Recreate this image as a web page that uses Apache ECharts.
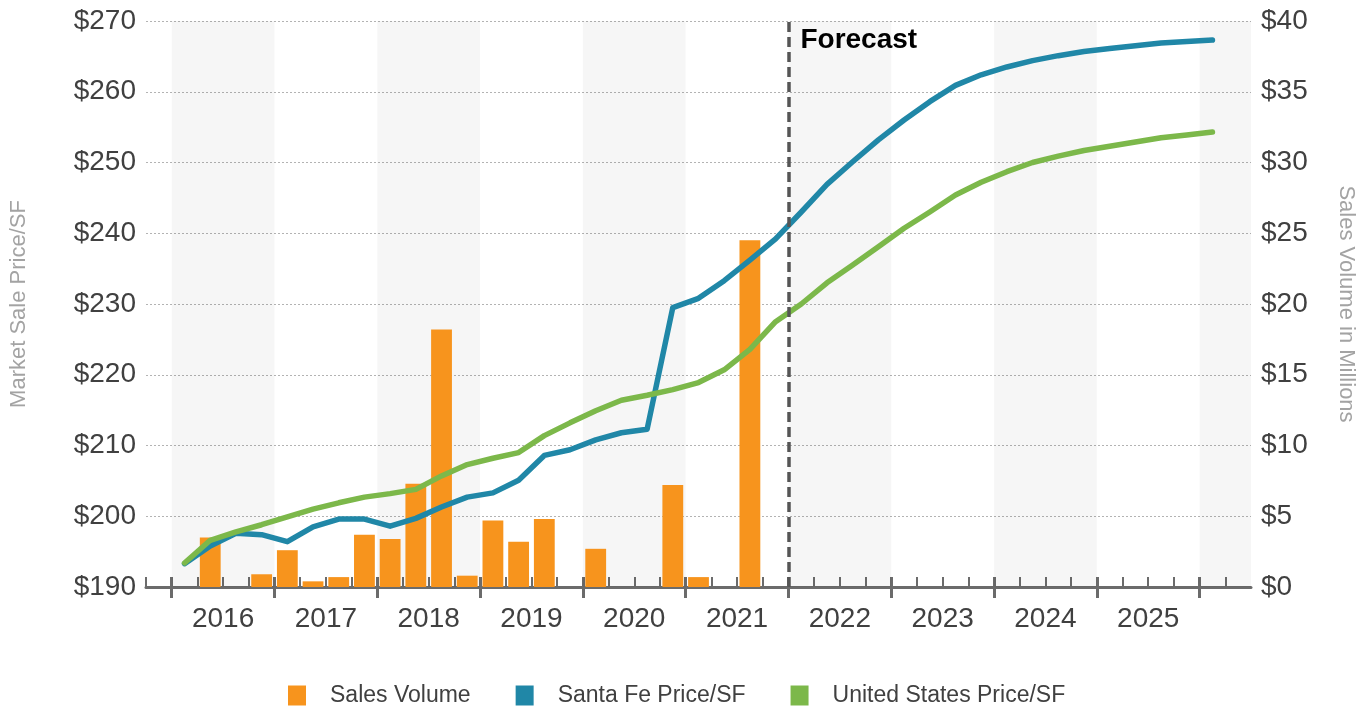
<!DOCTYPE html>
<html>
<head>
<meta charset="utf-8">
<script src="https://cdn.jsdelivr.net/npm/echarts@6/dist/echarts.min.js"></script>
<style>
  html, body { margin: 0; padding: 0; background: #ffffff; }
  #chart { width: 1370px; height: 709px; }
</style>
</head>
<body>
<div id="chart"></div>
<script>
// Quarterly categories (bars and lines sit in the middle of each quarter)
const quarters = [
  '2015Q4',
  '2016Q1', '2016Q2', '2016Q3', '2016Q4',
  '2017Q1', '2017Q2', '2017Q3', '2017Q4',
  '2018Q1', '2018Q2', '2018Q3', '2018Q4',
  '2019Q1', '2019Q2', '2019Q3', '2019Q4',
  '2020Q1', '2020Q2', '2020Q3', '2020Q4',
  '2021Q1', '2021Q2', '2021Q3', '2021Q4',
  '2022Q1', '2022Q2', '2022Q3', '2022Q4',
  '2023Q1', '2023Q2', '2023Q3', '2023Q4',
  '2024Q1', '2024Q2', '2024Q3', '2024Q4',
  '2025Q1', '2025Q2', '2025Q3', '2025Q4',
  '2026Q1', '2026Q2'
];
// Quarter start boundaries (one more than the quarters, closing the last one)
const boundaries = quarters.concat(['2026Q3']);

// Sales volume, $ millions
const salesVolume = [
  null,
  null, 3.5, null, 0.9,
  2.6, 0.4, 0.7, 3.7,
  3.4, 7.3, 18.2, 0.8,
  4.7, 3.2, 4.8, null,
  2.7, null, null, 7.2,
  0.7, null, 24.5, null,
  null, null, null, null,
  null, null, null, null,
  null, null, null, null,
  null, null, null, null,
  null, null
];

// Market sale price per SF, Santa Fe
const santaFePrice = [
  null,
  193.3, 195.8, 197.6, 197.4,
  196.4, 198.5, 199.6, 199.6,
  198.6, 199.7, 201.3, 202.7,
  203.3, 205.1, 208.6, 209.4,
  210.8, 211.8, 212.3, 229.5,
  230.8, 233.3, 236.2, 239.2,
  243.0, 246.9, 250.1, 253.2,
  256.0, 258.6, 260.9, 262.4,
  263.5, 264.4, 265.1, 265.7,
  266.1, 266.5, 266.9, 267.1,
  267.3, null
];

// Market sale price per SF, United States
const usPrice = [
  null,
  193.4, 196.6, 197.8, 198.8,
  199.9, 201.0, 201.9, 202.7,
  203.2, 203.8, 205.7, 207.3,
  208.2, 209.0, 211.4, 213.2,
  214.9, 216.4, 217.1, 217.9,
  218.9, 220.7, 223.6, 227.5,
  230.0, 233.0, 235.5, 238.1,
  240.7, 243.0, 245.4, 247.2,
  248.7, 250.0, 250.9, 251.7,
  252.3, 252.9, 253.5, 253.9,
  254.3, null
];

// Axis ranges
const priceAxis = { min: 190, max: 270, step: 10 };
const volumeAxis = { min: 0, max: 40, step: 5 };

// Alternate shaded years and start of the forecast period
const shadedYears = ['2016', '2018', '2020', '2022', '2024', '2026'];
const forecastStart = '2022Q1';

const seriesNames = ['Sales Volume', 'Santa Fe Price/SF', 'United States Price/SF'];
const colors = { volume: '#F7941D', santaFe: '#2087A7', us: '#7CB84A' };

const FONT = "'Liberation Sans', Arial, sans-serif";
const AXIS_GREY = '#6b6b6b';
const TEXT = '#404040';

const lastBoundary = boundaries[boundaries.length - 1];
const yearBands = shadedYears.map(function (y) {
  const next = (Number(y) + 1) + 'Q1';
  return [
    { xAxis: y + 'Q1' },
    { xAxis: boundaries.indexOf(next) >= 0 ? next : lastBoundary }
  ];
});

const isYearStart = function (index, value) { return /Q1$/.test(value); };

const chart = echarts.init(document.getElementById('chart'), null, { renderer: 'canvas' });

chart.setOption({
  animation: false,
  backgroundColor: '#ffffff',
  textStyle: { fontFamily: FONT },
  grid: { left: 146, right: 119, top: 21, bottom: 122, containLabel: false },
  legend: {
    left: 288,
    top: 684,
    padding: 0,
    itemWidth: 18,
    itemHeight: 20,
    itemGap: 45,
    textStyle: { fontFamily: FONT, fontSize: 23, color: TEXT, padding: [0, 0, 0, 19] },
    data: seriesNames.map(function (n) { return { name: n, icon: 'rect' }; })
  },
  xAxis: [
    {
      // quarter bands for the data series
      type: 'category',
      data: quarters,
      boundaryGap: true,
      position: 'bottom',
      show: false
    },
    {
      // quarter boundaries: axis line, quarter ticks, year labels
      type: 'category',
      data: boundaries,
      boundaryGap: false,
      position: 'bottom',
      axisLine: { show: true, lineStyle: { color: AXIS_GREY, width: 3 } },
      axisTick: { show: true, inside: true, length: 10, interval: 0, lineStyle: { color: AXIS_GREY, width: 2 } },
      axisLabel: {
        show: true,
        interval: function (index) { return index % 4 === 3; },
        formatter: function (v) { return v.slice(0, 4); },
        showMaxLabel: false,
        margin: 18,
        fontFamily: FONT,
        fontSize: 28,
        color: TEXT
      },
      splitLine: { show: false }
    },
    {
      // year boundaries, upper half of the long ticks
      type: 'category',
      data: boundaries,
      boundaryGap: false,
      position: 'bottom',
      axisLine: { show: false },
      axisTick: { show: true, inside: true, length: 10, interval: isYearStart, lineStyle: { color: AXIS_GREY, width: 3 } },
      axisLabel: { show: false },
      splitLine: { show: false }
    },
    {
      // year boundaries, lower half of the long ticks
      type: 'category',
      data: boundaries,
      boundaryGap: false,
      position: 'bottom',
      axisLine: { show: false },
      axisTick: { show: true, inside: false, length: 11, interval: isYearStart, lineStyle: { color: AXIS_GREY, width: 3 } },
      axisLabel: { show: false },
      splitLine: { show: false }
    }
  ],
  yAxis: [
    {
      type: 'value',
      position: 'left',
      min: priceAxis.min,
      max: priceAxis.max,
      interval: priceAxis.step,
      name: 'Market Sale Price/SF',
      nameLocation: 'middle',
      nameGap: 116,
      nameTextStyle: { fontFamily: FONT, fontSize: 22, color: '#a3a3a3' },
      axisLine: { show: false },
      axisTick: { show: false },
      axisLabel: { margin: 10, fontFamily: FONT, fontSize: 28, color: TEXT, formatter: function (v) { return '$' + v; } },
      splitLine: { show: true, lineStyle: { color: '#b3b3b3', width: 1, type: [2, 2] } }
    },
    {
      type: 'value',
      position: 'right',
      min: volumeAxis.min,
      max: volumeAxis.max,
      interval: volumeAxis.step,
      name: 'Sales Volume in Millions',
      nameLocation: 'middle',
      nameGap: 84,
      nameRotate: -90,
      nameTextStyle: { fontFamily: FONT, fontSize: 22, color: '#a3a3a3' },
      axisLine: { show: false },
      axisTick: { show: false },
      axisLabel: { margin: 10, fontFamily: FONT, fontSize: 28, color: TEXT, formatter: function (v) { return '$' + v; } },
      splitLine: { show: false }
    }
  ],
  series: [
    {
      // alternating year shading
      name: 'year bands',
      type: 'line',
      xAxisIndex: 1,
      yAxisIndex: 0,
      data: [],
      silent: true,
      z: 1,
      markArea: {
        silent: true,
        z: 1,
        itemStyle: { color: 'rgba(0,0,0,0.036)', borderWidth: 0 },
        data: yearBands
      }
    },
    {
      name: seriesNames[0],
      type: 'bar',
      xAxisIndex: 0,
      yAxisIndex: 1,
      data: salesVolume,
      barWidth: '81%',
      itemStyle: { color: colors.volume },
      z: 2
    },
    {
      name: seriesNames[1],
      type: 'line',
      xAxisIndex: 0,
      yAxisIndex: 0,
      data: santaFePrice,
      symbol: 'none',
      itemStyle: { color: colors.santaFe },
      lineStyle: { color: colors.santaFe, width: 5.5, cap: 'round', join: 'round' },
      z: 3
    },
    {
      name: seriesNames[2],
      type: 'line',
      xAxisIndex: 0,
      yAxisIndex: 0,
      data: usPrice,
      symbol: 'none',
      itemStyle: { color: colors.us },
      lineStyle: { color: colors.us, width: 5.5, cap: 'round', join: 'round' },
      z: 4
    },
    {
      // forecast divider
      name: 'forecast',
      type: 'line',
      xAxisIndex: 1,
      yAxisIndex: 0,
      data: [],
      silent: true,
      z: 6,
      markLine: {
        silent: true,
        z: 6,
        symbol: ['none', 'none'],
        lineStyle: { color: '#555555', width: 3.5, type: [10, 5] },
        label: {
          show: true,
          position: 'end',
          formatter: 'Forecast',
          distance: 0,
          align: 'left',
          verticalAlign: 'top',
          padding: [5, 0, 0, 12],
          fontFamily: FONT,
          fontSize: 28,
          fontWeight: 'bold',
          color: '#000000'
        },
        data: [{ xAxis: forecastStart }]
      }
    }
  ]
});
</script>
</body>
</html>
